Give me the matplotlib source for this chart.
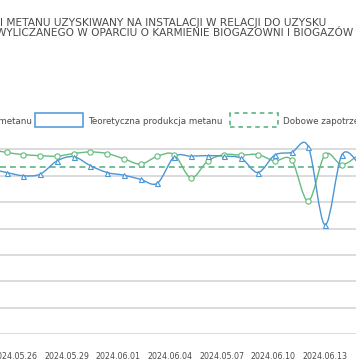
import numpy as np
import matplotlib
matplotlib.use("Agg")
import matplotlib.pyplot as plt
from matplotlib.path import Path
from matplotlib.patches import PathPatch, Rectangle
from matplotlib import font_manager

# ---- data (index -1 and 21 are partially visible points at the crop edges) ----
dates = ["2024.05.24", "2024.05.25", "2024.05.26", "2024.05.27", "2024.05.28", "2024.05.29",
         "2024.05.30", "2024.05.31", "2024.06.01", "2024.06.02", "2024.06.03", "2024.06.04",
         "2024.06.05", "2024.06.06", "2024.05.07", "2024.06.08", "2024.06.09", "2024.06.10",
         "2024.06.11", "2024.06.12", "2024.06.13", "2024.06.14", "2024.06.15"]
real_prod = [3500, 3440, 3400, 3380, 3370, 3420, 3450, 3420, 3320, 3220, 3370, 3400,
             2960, 3280, 3400, 3390, 3400, 3280, 3300, 2520, 3400, 3210, 3390]
theor_prod = [3130, 3060, 3000, 3030, 3280, 3360, 3190, 3060, 3010, 2930, 2860, 3360,
              3370, 3380, 3370, 3330, 3060, 3390, 3440, 3550, 2070, 3390, 3240]
daily_demand = 3160
tick_labels = ["2024.05.26", "2024.05.29", "2024.06.01", "2024.06.04",
               "2024.05.07", "2024.06.10", "2024.06.13"]
title_line1 = "I METANU UZYSKIWANY NA INSTALACJI W RELACJI DO UZYSKU"
title_line2 = "WYLICZANEGO W OPARCIU O KARMIENIE BIOGAZOWNI I BIOGAZÓW"
legend_labels = ["Rzeczywista produkcja metanu", "Teoretyczna produkcja metanu",
                 "Dobowe zapotrzebowanie"]

GREEN = "#66bb7f"
BLUE = "#4a96d6"
DASH = "#4fae7c"
GRID = "#d9d9d9"
TXT = "#4a4a4a"

names = {f.name for f in font_manager.fontManager.ttflist}
narrow = ["Liberation Sans Narrow"] if "Liberation Sans Narrow" in names else ["DejaVu Sans"]
tick_size = 6.9 if narrow[0] == "Liberation Sans Narrow" else 5.7

fig = plt.figure(figsize=(3.56, 3.64), dpi=100)
W, H = 356, 364
ax = fig.add_axes([0, (H - 334.3) / H, 1, (334.3 - 140) / H])
ax.set_xlim(-0.4, 20.85)
ax.set_ylim(0, 3676)
for s in ax.spines.values():
    s.set_visible(False)
ax.set_yticks(np.arange(0, 3501, 500))
ax.yaxis.grid(True, color=GRID, lw=1.3)
ax.tick_params(axis="y", left=False, labelleft=False)
ax.tick_params(axis="x", bottom=False, pad=9, labelsize=tick_size, labelcolor=TXT)
ax.set_axisbelow(True)

x = np.arange(-1, len(dates) - 1)


def smooth_path(xs, ys, k=1 / 6):
    pts = np.column_stack([xs, ys]).astype(float)
    n = len(pts)
    verts = [pts[0]]
    codes = [Path.MOVETO]
    for i in range(n - 1):
        p0 = pts[i - 1] if i > 0 else pts[i]
        p1 = pts[i]
        p2 = pts[i + 1]
        p3 = pts[i + 2] if i + 2 < n else pts[i + 1]
        c1 = p1 + (p2 - p0) * k
        c2 = p2 - (p3 - p1) * k
        verts += [c1, c2, p2]
        codes += [Path.CURVE4] * 3
    return Path(verts, codes)


ax.axhline(daily_demand, color=DASH, lw=1.1, ls=(0, (3.9, 2.6)), zorder=2)

for ys, col, mk in [(real_prod, GREEN, "o"), (theor_prod, BLUE, "^")]:
    ax.add_patch(PathPatch(smooth_path(x, ys), fc="none", ec=col, lw=1.0, zorder=3))
    ax.plot(x, ys, ls="none", marker=mk, ms=3.8 if mk == "o" else 3.6, mfc="white",
            mec=col, mew=0.8, zorder=4)

ax.set_xticks(np.linspace(0.5, 19.0, len(tick_labels)))
ax.set_xticklabels(tick_labels, family=narrow)

# title (cropped at the left and right edges like the reference)
fig.text(0 / W, 1 - 23 / H, title_line1, fontsize=7.7, color=TXT, va="center", ha="left")
fig.text(-4 / W, 1 - 33.5 / H, title_line2, fontsize=7.6, color=TXT, va="center", ha="left")

# legend (cropped)
ly = 1 - 122 / H
fig.text(31.5 / W, ly, legend_labels[0], fontsize=6.3, color=TXT, va="center", ha="right")
fig.add_artist(Rectangle((35 / W, 1 - 127.3 / H), 48 / W, 14.6 / H, transform=fig.transFigure,
                         fc="white", ec=BLUE, lw=1.1))
fig.text(88 / W, ly, legend_labels[1], fontsize=6.3, color=TXT, va="center", ha="left")
fig.add_artist(Rectangle((230 / W, 1 - 127.3 / H), 48 / W, 14.6 / H, transform=fig.transFigure,
                         fc="white", ec=DASH, lw=1.1, ls=(0, (3, 2.5))))
fig.text(283 / W, ly, legend_labels[2], fontsize=6.3, color=TXT, va="center", ha="left")

fig.savefig("out.png", dpi=100)
